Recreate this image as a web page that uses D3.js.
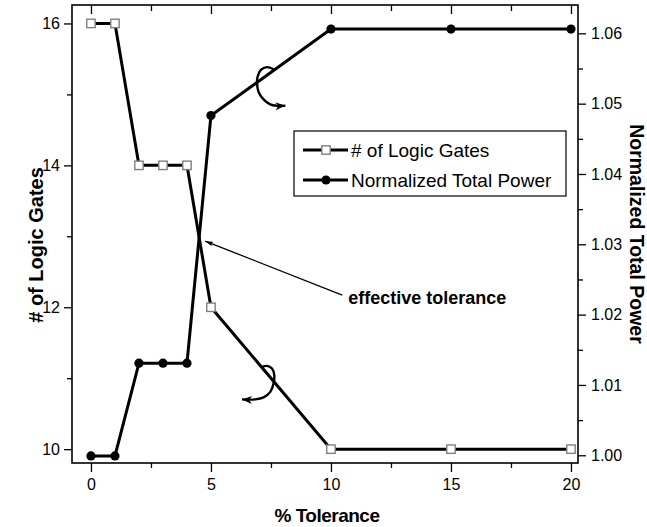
<!DOCTYPE html>
<html>
<head>
<meta charset="utf-8">
<script src="https://cdn.jsdelivr.net/npm/d3@7"></script>
<style>
  body { margin: 0; background: #fff; }
  text { font-family: "Liberation Sans", Arial, sans-serif; }
  .axis text { font-size: 16px; fill: #000; }
  .axis line { stroke: #000; stroke-width: 1.3; }
  .axis path { display: none; }
</style>
</head>
<body>
<script>
// Data
var tolerance = [0, 1, 2, 3, 4, 5, 10, 15, 20];
var logicGates = [16, 16, 14, 14, 14, 12, 10, 10, 10];
var totalPower = [0.9999, 0.9999, 1.0131, 1.0131, 1.0131, 1.0483, 1.0606, 1.0606, 1.0606];

var xTicks = [0, 5, 10, 15, 20];
var xMinorTicks = [2.5, 7.5, 12.5, 17.5];
var leftTicks = [10, 12, 14, 16];
var leftMinorTicks = [11, 13, 15];
var rightTicks = [1.00, 1.01, 1.02, 1.03, 1.04, 1.05, 1.06];
var rightMinorTicks = [1.005, 1.015, 1.025, 1.035, 1.045, 1.055];

var seriesNames = ["# of Logic Gates", "Normalized Total Power"];

// annotation paths, in data units (x: % tolerance, y: left or right axis)
var effArrow = [[10.47, 12.171], [4.76, 12.932]];
var powerHook = [[7.61, 1.0549], [7.33, 1.0552], [7.08, 1.0548], [6.94, 1.0538], [6.92, 1.0529],
  [6.98, 1.0517], [7.19, 1.0506], [7.47, 1.0499], [7.75, 1.0497], [8.10, 1.0497]];
var gatesHook = [[7.125, 11.160], [7.333, 11.174], [7.542, 11.137], [7.638, 11.043], [7.608, 10.926],
  [7.471, 10.808], [7.192, 10.729], [6.846, 10.701], [6.292, 10.701]];

// Chart Params
var svgWidth = 647;
var svgHeight = 527;
var margin = { top: 5, right: 69, bottom: 64, left: 72 };
var width = svgWidth - margin.left - margin.right;
var height = svgHeight - margin.top - margin.bottom;

var svg = d3.select("body")
  .append("svg")
  .attr("width", svgWidth)
  .attr("height", svgHeight);

var defs = svg.append("defs");
defs.append("marker")
  .attr("id", "bigHead")
  .attr("markerUnits", "userSpaceOnUse")
  .attr("viewBox", "0 0 10 8")
  .attr("refX", 10).attr("refY", 4)
  .attr("markerWidth", 11).attr("markerHeight", 8)
  .attr("orient", "auto")
  .append("path")
  .attr("d", "M0,0 L10,4 L0,8 L3,4 Z")
  .attr("fill", "#000");
defs.append("marker")
  .attr("id", "smallHead")
  .attr("markerUnits", "userSpaceOnUse")
  .attr("viewBox", "0 0 10 6")
  .attr("refX", 10).attr("refY", 3)
  .attr("markerWidth", 8).attr("markerHeight", 5)
  .attr("orient", "auto")
  .append("path")
  .attr("d", "M0,0 L10,3 L0,6 L2,3 Z")
  .attr("fill", "#000");

var chartGroup = svg.append("g")
  .attr("transform", `translate(${margin.left}, ${margin.top})`);

// Scales
var xScale = d3.scaleLinear().domain([-0.79, 20.293]).range([0, width]);
var yGates = d3.scaleLinear().domain([9.805, 16.26]).range([height, 0]);
var yPower = d3.scaleLinear().domain([0.9989, 1.06403]).range([height, 0]);

// Axes
chartGroup.append("g").classed("axis", true)
  .attr("transform", `translate(0, ${height})`)
  .call(d3.axisBottom(xScale).tickValues(xTicks).tickSize(9).tickPadding(7).tickFormat(d3.format("d")));
chartGroup.append("g").classed("axis", true)
  .attr("transform", `translate(0, ${height})`)
  .call(d3.axisBottom(xScale).tickValues(xMinorTicks).tickSize(5).tickFormat(""));
chartGroup.append("g").classed("axis", true)
  .call(d3.axisTop(xScale).tickValues(xTicks).tickSize(-9).tickFormat(""));
chartGroup.append("g").classed("axis", true)
  .call(d3.axisTop(xScale).tickValues(xMinorTicks).tickSize(-6).tickFormat(""));

chartGroup.append("g").classed("axis", true)
  .call(d3.axisLeft(yGates).tickValues(leftTicks).tickSize(8).tickPadding(4).tickFormat(d3.format("d")));
chartGroup.append("g").classed("axis", true)
  .call(d3.axisLeft(yGates).tickValues(leftMinorTicks).tickSize(5).tickFormat(""));

chartGroup.append("g").classed("axis", true)
  .attr("transform", `translate(${width}, 0)`)
  .call(d3.axisRight(yPower).tickValues(rightTicks).tickSize(8).tickPadding(5).tickFormat(d3.format(".2f")));
chartGroup.append("g").classed("axis", true)
  .attr("transform", `translate(${width}, 0)`)
  .call(d3.axisRight(yPower).tickValues(rightMinorTicks).tickSize(5).tickFormat(""));

// Frame
chartGroup.append("rect")
  .attr("width", width)
  .attr("height", height)
  .attr("fill", "none")
  .attr("stroke", "#000")
  .attr("stroke-width", 1.6);

// Lines
var gatesData = tolerance.map((t, i) => ({ x: t, y: logicGates[i] }));
var powerData = tolerance.map((t, i) => ({ x: t, y: totalPower[i] }));

var lineGates = d3.line().x(d => xScale(d.x)).y(d => yGates(d.y));
var linePower = d3.line().x(d => xScale(d.x)).y(d => yPower(d.y));

chartGroup.append("path")
  .datum(powerData)
  .attr("d", linePower)
  .attr("fill", "none")
  .attr("stroke", "#000")
  .attr("stroke-width", 3);

chartGroup.append("path")
  .datum(gatesData)
  .attr("d", lineGates)
  .attr("fill", "none")
  .attr("stroke", "#000")
  .attr("stroke-width", 3);

chartGroup.selectAll(".pt")
  .data(powerData)
  .enter()
  .append("circle")
  .attr("cx", d => xScale(d.x))
  .attr("cy", d => yPower(d.y))
  .attr("r", 4.6)
  .attr("fill", "#000");

chartGroup.selectAll(".sq")
  .data(gatesData)
  .enter()
  .append("rect")
  .attr("x", d => xScale(d.x) - 4.2)
  .attr("y", d => yGates(d.y) - 4.2)
  .attr("width", 8.4)
  .attr("height", 8.4)
  .attr("fill", "#fff")
  .attr("stroke", "#808080")
  .attr("stroke-width", 1.4);

// Annotations
chartGroup.append("path")
  .datum(effArrow)
  .attr("d", d3.line().x(d => xScale(d[0])).y(d => yGates(d[1])))
  .attr("fill", "none")
  .attr("stroke", "#000")
  .attr("stroke-width", 1.3)
  .attr("marker-end", "url(#smallHead)");

chartGroup.append("text")
  .attr("x", xScale(10.72))
  .attr("y", yGates(12.14) + 6.5)
  .attr("font-size", "18px")
  .attr("font-weight", "bold")
  .text("effective tolerance");

chartGroup.append("path")
  .datum(powerHook)
  .attr("d", d3.line().curve(d3.curveCatmullRom).x(d => xScale(d[0])).y(d => yPower(d[1])))
  .attr("fill", "none")
  .attr("stroke", "#000")
  .attr("stroke-width", 2.4)
  .attr("marker-end", "url(#bigHead)");

chartGroup.append("path")
  .datum(gatesHook)
  .attr("d", d3.line().curve(d3.curveCatmullRom).x(d => xScale(d[0])).y(d => yGates(d[1])))
  .attr("fill", "none")
  .attr("stroke", "#000")
  .attr("stroke-width", 2.4)
  .attr("marker-end", "url(#bigHead)");

// Legend
var legend = chartGroup.append("g")
  .attr("transform", `translate(${294 - margin.left}, ${131 - margin.top})`);

legend.append("rect")
  .attr("width", 272)
  .attr("height", 65)
  .attr("fill", "#fff")
  .attr("stroke", "#000")
  .attr("stroke-width", 1.2);

seriesNames.forEach(function(name, i) {
  var ly = 19 + i * 30;
  legend.append("line")
    .attr("x1", 9).attr("x2", 54)
    .attr("y1", ly).attr("y2", ly)
    .attr("stroke", "#000")
    .attr("stroke-width", 3);
  if (i === 0) {
    legend.append("rect")
      .attr("x", 32 - 4.2).attr("y", ly - 4.2)
      .attr("width", 8.4).attr("height", 8.4)
      .attr("fill", "#fff")
      .attr("stroke", "#808080")
      .attr("stroke-width", 1.4);
  } else {
    legend.append("circle")
      .attr("cx", 32).attr("cy", ly)
      .attr("r", 4.6)
      .attr("fill", "#000");
  }
  legend.append("text")
    .attr("x", 57)
    .attr("y", ly + 6.8)
    .attr("font-size", "19px")
    .text(name);
});

// Axis titles
svg.append("text")
  .attr("transform", "translate(43, 245) rotate(-90)")
  .attr("text-anchor", "middle")
  .attr("font-size", "20px")
  .attr("font-weight", "bold")
  .text("# of Logic Gates");

svg.append("text")
  .attr("transform", "translate(630, 234) rotate(90)")
  .attr("text-anchor", "middle")
  .attr("font-size", "19.5px")
  .attr("font-weight", "bold")
  .text("Normalized Total Power");

svg.append("text")
  .attr("x", 327)
  .attr("y", 522)
  .attr("text-anchor", "middle")
  .attr("font-size", "19px")
  .attr("font-weight", "bold")
  .attr("letter-spacing", "-0.5")
  .text("% Tolerance");
</script>
</body>
</html>
